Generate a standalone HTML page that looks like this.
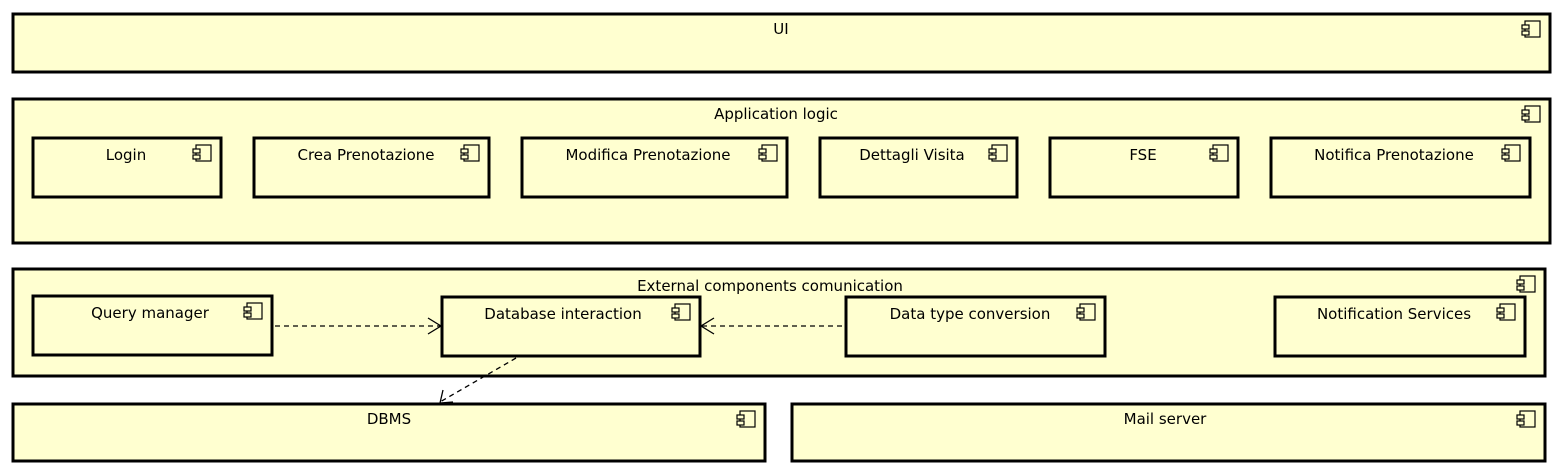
<!DOCTYPE html>
<html><head><meta charset="utf-8"><style>
html,body{margin:0;padding:0;background:#fff;}
svg{display:block;}
text{font-family:"DejaVu Sans ExtraLight","DejaVu Sans","Liberation Sans",sans-serif;font-size:15px;fill:#000;text-anchor:middle;}
</style></head><body>
<svg width="1562" height="474" viewBox="0 0 1562 474" xmlns="http://www.w3.org/2000/svg">
<defs>
<g id="ic">
<rect x="-25" y="7" width="15" height="16" fill="none" stroke="#000" stroke-width="1.2"/>
<rect x="-28" y="11" width="7" height="4" fill="#ffffd0" stroke="#000" stroke-width="1.2"/>
<rect x="-28" y="17" width="7" height="4" fill="#ffffd0" stroke="#000" stroke-width="1.2"/>
</g>
</defs>
<g fill="#ffffd0" stroke="#000" stroke-width="3">
<rect x="13" y="14" width="1537" height="58"/>
<rect x="13" y="99" width="1537" height="144"/>
<rect x="33" y="138" width="188" height="59"/>
<rect x="254" y="138" width="235" height="59"/>
<rect x="522" y="138" width="265" height="59"/>
<rect x="820" y="138" width="197" height="59"/>
<rect x="1050" y="138" width="188" height="59"/>
<rect x="1271" y="138" width="259" height="59"/>
<rect x="13" y="269" width="1532" height="107"/>
<rect x="33" y="296" width="239" height="59"/>
<rect x="442" y="297" width="258" height="59"/>
<rect x="846" y="297" width="259" height="59"/>
<rect x="1275" y="297" width="250" height="59"/>
<rect x="13" y="404" width="752" height="57"/>
<rect x="792" y="404" width="753" height="57"/>
</g>
<use href="#ic" x="1550" y="14"/>
<use href="#ic" x="1550" y="99"/>
<use href="#ic" x="221" y="138"/>
<use href="#ic" x="489" y="138"/>
<use href="#ic" x="787" y="138"/>
<use href="#ic" x="1017" y="138"/>
<use href="#ic" x="1238" y="138"/>
<use href="#ic" x="1530" y="138"/>
<use href="#ic" x="1545" y="269"/>
<use href="#ic" x="272" y="296"/>
<use href="#ic" x="700" y="297"/>
<use href="#ic" x="1105" y="297"/>
<use href="#ic" x="1525" y="297"/>
<use href="#ic" x="765" y="404"/>
<use href="#ic" x="1545" y="404"/>
<text x="781" y="34">UI</text>
<text x="776" y="119">Application logic</text>
<text x="126" y="160">Login</text>
<text x="366" y="160">Crea Prenotazione</text>
<text x="648" y="160">Modifica Prenotazione</text>
<text x="912" y="160">Dettagli Visita</text>
<text x="1143" y="160">FSE</text>
<text x="1394" y="160">Notifica Prenotazione</text>
<text x="770" y="291">External components comunication</text>
<text x="150" y="318">Query manager</text>
<text x="563" y="319">Database interaction</text>
<text x="970" y="319">Data type conversion</text>
<text x="1394" y="319">Notification Services</text>
<text x="389" y="424">DBMS</text>
<text x="1165" y="424">Mail server</text>
<g fill="none" stroke="#000" stroke-width="1.3" stroke-dasharray="5,4">
<line x1="275" y1="326" x2="440" y2="326"/>
<line x1="842" y1="326" x2="702" y2="326"/>
<line x1="516" y1="358" x2="440" y2="402"/>
</g>
<g fill="none" stroke="#000" stroke-width="1.3">
<polyline points="428,318 441,326 428,334"/>
<polyline points="714,318 701,326 714,334"/>
<polyline points="443,390 440,403 453,402"/>
</g>
</svg>
</body></html>
